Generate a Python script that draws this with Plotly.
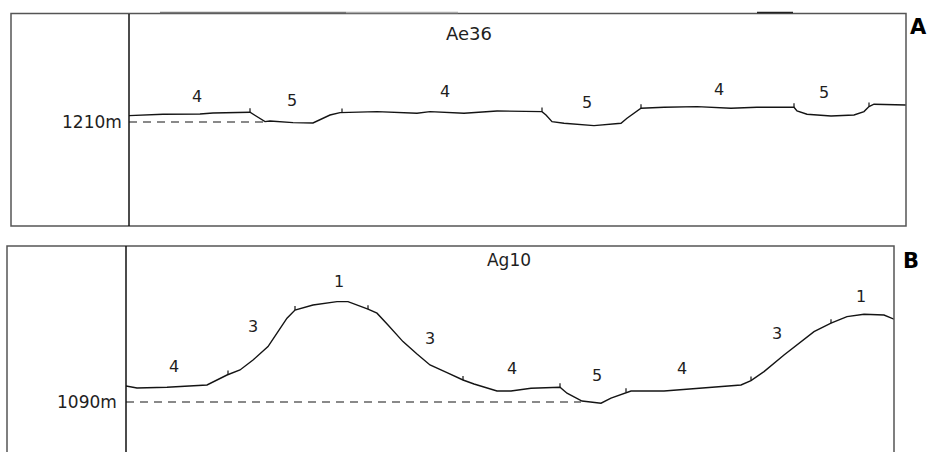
import numpy as np
import plotly.graph_objects as go

W, H = 928, 452

# ---------------- Panel A : profile Ae36 (distance, elevation m) ----------------
a_dist = [0, 34, 71, 84, 121, 128, 136, 141, 164, 184, 191, 201, 211, 248, 288, 301,
          335, 368, 413, 417, 423, 435, 465, 492, 498, 507, 512, 535, 568, 602, 628,
          665, 668, 678, 702, 725, 735, 740, 745, 777]
a_elev = [1213.2, 1213.9, 1214.0, 1214.5, 1214.9, 1212.5, 1210.2, 1210.5, 1209.7, 1209.5,
          1211.0, 1213.5, 1214.7, 1215.2, 1214.4, 1215.2, 1214.4, 1215.5, 1215.2, 1213.5,
          1210.2, 1209.4, 1208.2, 1209.4, 1211.9, 1215.2, 1216.9, 1217.4, 1217.7, 1216.9,
          1217.4, 1217.4, 1215.5, 1213.9, 1213.0, 1213.5, 1215.2, 1217.7, 1218.9, 1218.5]
a_bounds = [121, 213, 413, 512, 665, 740]
a_units = ["4", "5", "4", "5", "4", "5"]
a_unit_x = [68, 163, 316, 458, 590, 695]
a_unit_y = [1222, 1220, 1224.5, 1219, 1225.5, 1224]
a_name = "Ae36"
a_ref = 1210
a_ref_end = 136

# ---------------- Panel B : profile Ag10 ----------------
b_dist = [0, 11, 41, 61, 81, 101, 114, 127, 142, 151, 161, 169, 187, 211, 222, 242, 251,
          262, 277, 291, 304, 321, 337, 348, 371, 385, 405, 434, 441, 456, 475, 485, 500,
          505, 538, 571, 615, 625, 638, 658, 688, 705, 721, 738, 758, 768]
b_elev = [1098.0, 1097.0, 1097.4, 1097.9, 1098.5, 1103.5, 1106.0, 1111.0, 1117.7, 1124.4,
          1131.9, 1136.0, 1138.5, 1140.2, 1140.2, 1136.4, 1134.4, 1128.5, 1120.2, 1114.0,
          1108.5, 1104.7, 1101.0, 1099.0, 1095.5, 1095.5, 1096.9, 1097.4, 1094.4, 1090.5,
          1089.4, 1091.9, 1094.9, 1095.5, 1095.5, 1096.9, 1098.5, 1100.7, 1105.2, 1113.5,
          1125.2, 1129.4, 1132.7, 1133.9, 1133.5, 1131.4]
b_bounds = [102, 169, 242, 337, 434, 500, 625, 705]
b_units = ["4", "3", "1", "3", "4", "5", "4", "3", "1"]
b_unit_x = [48, 127, 213, 304, 386, 471, 556, 651, 735]
b_unit_y = [1107, 1127, 1149.5, 1121, 1106, 1102.5, 1106, 1123.5, 1142]
b_name = "Ag10"
b_ref = 1090
b_ref_end = 455

TICK = 2.0  # tick height in m
FONT = "DejaVu Sans"
INK = "#141414"
TXT = "#1e1e1e"


def px(x):
    return x / W


def py(y):
    return 1 - y / H


def tick_trace(dist, elev, bounds, xa, ya):
    xs, ys = [], []
    for b in bounds:
        e = float(np.interp(b, dist, elev))
        xs += [b, b, None]
        ys += [e, e + TICK, None]
    return go.Scatter(x=xs, y=ys, mode="lines", line=dict(color=INK, width=1.2),
                      xaxis=xa, yaxis=ya, hoverinfo="skip", showlegend=False)


fig = go.Figure()

# Panel A
fig.add_trace(go.Scatter(x=a_dist, y=a_elev, mode="lines", line=dict(color=INK, width=1.4),
                         xaxis="x", yaxis="y", showlegend=False))
fig.add_trace(tick_trace(a_dist, a_elev, a_bounds, "x", "y"))
fig.add_trace(go.Scatter(x=[0, a_ref_end], y=[a_ref, a_ref], mode="lines",
                         line=dict(color=INK, width=1.2, dash="8px,6px"),
                         xaxis="x", yaxis="y", showlegend=False))
fig.add_trace(go.Scatter(x=a_unit_x, y=a_unit_y, mode="text", text=a_units,
                         textfont=dict(family=FONT, size=16, color=TXT),
                         xaxis="x", yaxis="y", showlegend=False))
fig.add_trace(go.Scatter(x=[340], y=[1253.5], mode="text", text=[a_name],
                         textfont=dict(family=FONT, size=18, color=TXT),
                         xaxis="x", yaxis="y", showlegend=False))

# Panel B
fig.add_trace(go.Scatter(x=b_dist, y=b_elev, mode="lines", line=dict(color=INK, width=1.4),
                         xaxis="x2", yaxis="y2", showlegend=False))
fig.add_trace(tick_trace(b_dist, b_elev, b_bounds, "x2", "y2"))
fig.add_trace(go.Scatter(x=[0, b_ref_end], y=[b_ref, b_ref], mode="lines",
                         line=dict(color=INK, width=1.2, dash="8px,6px"),
                         xaxis="x2", yaxis="y2", showlegend=False))
fig.add_trace(go.Scatter(x=b_unit_x, y=b_unit_y, mode="text", text=b_units,
                         textfont=dict(family=FONT, size=16, color=TXT),
                         xaxis="x2", yaxis="y2", showlegend=False))
fig.add_trace(go.Scatter(x=[383], y=[1160], mode="text", text=[b_name],
                         textfont=dict(family=FONT, size=17, color=TXT),
                         xaxis="x2", yaxis="y2", showlegend=False))

hidden = dict(visible=False, fixedrange=True)
fig.update_layout(
    width=W, height=H,
    margin=dict(l=0, r=0, t=0, b=0),
    paper_bgcolor="white", plot_bgcolor="rgba(0,0,0,0)",
    xaxis=dict(domain=[px(129), px(906)], range=[0, 777], **hidden),
    yaxis=dict(domain=[py(226), py(14)], range=[1158, 1264], **hidden),
    xaxis2=dict(domain=[px(126), px(894)], range=[0, 768], anchor="y2", **hidden),
    yaxis2=dict(domain=[0, py(246)], range=[1065, 1168], anchor="x2", **hidden),
)

frame = "#555555"
shapes = [
    # panel A frame
    dict(type="rect", xref="paper", yref="paper", x0=px(11), x1=px(906), y0=py(226), y1=py(13.5),
         line=dict(color=frame, width=1.5)),
    dict(type="line", xref="paper", yref="paper", x0=px(129), x1=px(129), y0=py(226), y1=py(14),
         line=dict(color="#111", width=1.5)),
    dict(type="line", xref="paper", yref="paper", x0=px(160), x1=px(346), y0=py(12.5), y1=py(12.5),
         line=dict(color="#777", width=1.5)),
    dict(type="line", xref="paper", yref="paper", x0=px(346), x1=px(458), y0=py(12.5), y1=py(12.5),
         line=dict(color="#aaa", width=1.5)),
    dict(type="line", xref="paper", yref="paper", x0=px(757), x1=px(793), y0=py(12.5), y1=py(12.5),
         line=dict(color="#222", width=1.5)),
    # panel B frame
    dict(type="path", xref="paper", yref="paper",
         path=f"M {px(7)},{py(452)} L {px(7)},{py(246)} L {px(894)},{py(246)} L {px(894)},{py(452)}",
         line=dict(color=frame, width=1.5)),
    dict(type="line", xref="paper", yref="paper", x0=px(126), x1=px(126), y0=py(452), y1=py(246),
         line=dict(color="#111", width=1.5)),
]
fig.update_layout(shapes=shapes)

annotations = [
    dict(text=f"{a_ref}m", xref="paper", yref="y", x=px(124), y=a_ref, xanchor="right",
         yanchor="middle", showarrow=False, font=dict(family=FONT, size=17, color=TXT)),
    dict(text=f"{b_ref}m", xref="paper", yref="y2", x=px(119), y=b_ref, xanchor="right",
         yanchor="middle", showarrow=False, font=dict(family=FONT, size=17, color=TXT)),
    dict(text="<b>A</b>", xref="paper", yref="paper", x=px(918), y=py(27), xanchor="center",
         yanchor="middle", showarrow=False, font=dict(family=FONT, size=21, color="black")),
    dict(text="<b>B</b>", xref="paper", yref="paper", x=px(911), y=py(261), xanchor="center",
         yanchor="middle", showarrow=False, font=dict(family=FONT, size=21, color="black")),
]
fig.update_layout(annotations=annotations)

fig.write_html(
    "out.html",
    config={"displayModeBar": False},
    post_script="document.body.style.margin='0';document.body.style.overflow='hidden';",
)
